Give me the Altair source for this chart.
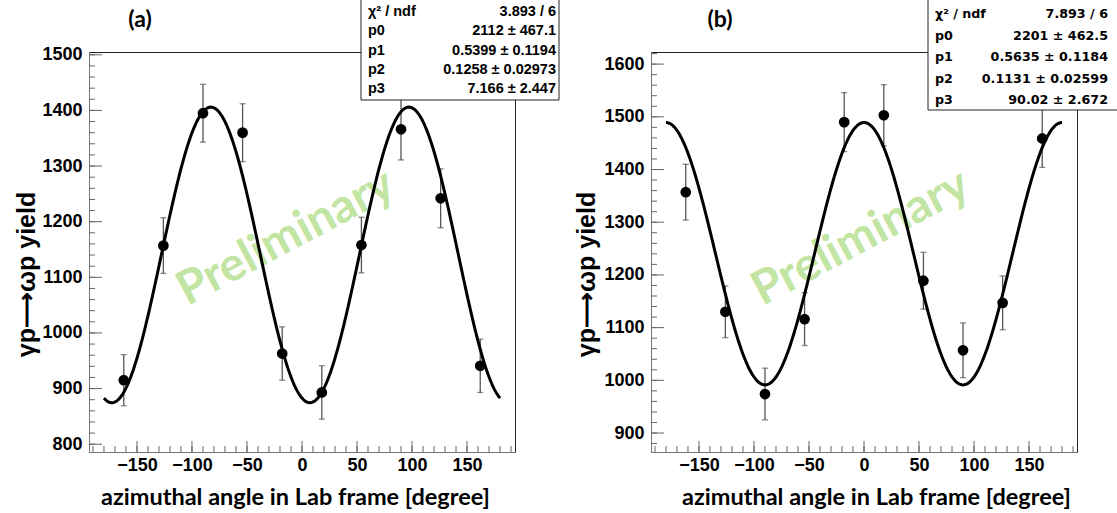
import altair as alt
import pandas as pd

# ---------------- data ----------------
angles = [-162, -126, -90, -54, -18, 18, 54, 90, 126, 162]

yield_a = [915, 1157, 1395, 1360, 963, 893, 1158, 1366, 1242, 941]
err_a = [46, 50, 52, 52, 48, 48, 50, 55, 53, 48]

yield_b = [1357, 1130, 974, 1116, 1490, 1503, 1189, 1057, 1147, 1459]
err_b = [53, 49, 49, 50, 56, 58, 54, 52, 51, 55]

# fit parameters (p0, p1, p2, p3) shown in the stat boxes
fit_a = [2112, 0.5399, 0.1258, 7.166]
fit_b = [2201, 0.5635, 0.1131, 90.02]

stat_names = ["χ² / ndf", "p0", "p1", "p2", "p3"]
stat_a = ["3.893 / 6", "2112 ± 467.1", "0.5399 ± 0.1194", "0.1258 ± 0.02973", "7.166 ± 2.447"]
stat_b = ["7.893 / 6", "2201 ± 462.5", "0.5635 ± 0.1184", "0.1131 ± 0.02599", "90.02 ± 2.672"]

x_ticks = [-150, -100, -50, 0, 50, 100, 150]
y_ticks_a = [800, 900, 1000, 1100, 1200, 1300, 1400, 1500]
y_ticks_b = [900, 1000, 1100, 1200, 1300, 1400, 1500, 1600]
x_domain = [-193.6, 193.6]
y_domain_a = [786, 1505]
y_domain_b = [864, 1623]
curve_range = [-180, 180]

x_title = "azimuthal angle in Lab frame [degree]"
y_title = "γp⟶ωp yield"

# ---------------- styling ----------------
W, H = 426, 400
TICK = "#666666"
AXC = "#777777"
GREEN = "#c2e5a3"


def panel(tag, yields, errs, fit, stats, ydom, yticks, geo):
    df = pd.DataFrame({"angle": angles, "yield": yields, "err": errs})
    xs = alt.Scale(domain=x_domain, nice=False, zero=False)
    ys = alt.Scale(domain=ydom, nice=False, zero=False)
    xaxis = alt.Axis(values=x_ticks, title=x_title, ticks=False, tickSize=0, grid=False, format="d",
                     labelPadding=4, titleX=geo["xtx"], titleY=45,
                     titleBaseline="middle", titleAlign="center", domainColor=AXC)
    yaxis = alt.Axis(values=yticks, title=y_title, ticks=False, tickSize=0, grid=False, format="d",
                     labelPadding=7, titleX=geo["ytx"], titleY=222, titleAngle=270,
                     titleBaseline="middle", titleAlign="center", domainColor=AXC)

    def X(f):
        return alt.X(f, scale=xs, axis=xaxis)

    def Y(f):
        return alt.Y(f, scale=ys, axis=yaxis)

    layers = []
    # watermark
    layers.append(
        alt.Chart(pd.DataFrame({"t": ["Preliminary"]})).mark_text(
            angle=332, font="Lato", fontWeight="bold", fontSize=47, color=GREEN
        ).encode(text="t:N", x=alt.value(geo["wmx"]), y=alt.value(186))
    )
    # inner ticks (ROOT style)
    layers.append(
        alt.Chart(alt.sequence(geo["ymin0"], geo["ymin1"] + 1, 20, as_="v")).mark_rule(color=TICK, strokeWidth=1)
        .encode(y=Y("v:Q"), x=alt.value(0), x2=alt.value(6))
    )
    layers.append(
        alt.Chart(alt.sequence(yticks[0], yticks[-1] + 1, 100, as_="v")).mark_rule(color=TICK, strokeWidth=1)
        .encode(y=Y("v:Q"), x=alt.value(0), x2=alt.value(13))
    )
    layers.append(
        alt.Chart(alt.sequence(-190, 191, 10, as_="v")).mark_rule(color=TICK, strokeWidth=1)
        .encode(x=X("v:Q"), y=alt.value(H), y2=alt.value(H - 6))
    )
    layers.append(
        alt.Chart(alt.sequence(-150, 151, 50, as_="v")).mark_rule(color=TICK, strokeWidth=1)
        .encode(x=X("v:Q"), y=alt.value(H), y2=alt.value(H - 11))
    )
    # error bars
    base = alt.Chart(df).transform_calculate(lo="datum.yield - datum.err", hi="datum.yield + datum.err")
    layers.append(base.mark_rule(color="#555555", strokeWidth=1.3).encode(x=X("angle:Q"), y=Y("lo:Q"), y2="hi:Q"))
    layers.append(base.mark_tick(orient="horizontal", size=6, thickness=1.3, color="#555555")
                  .encode(x=X("angle:Q"), y=Y("lo:Q")))
    layers.append(base.mark_tick(orient="horizontal", size=6, thickness=1.3, color="#555555")
                  .encode(x=X("angle:Q"), y=Y("hi:Q")))
    # fit curve
    p0, p1, p2, p3 = fit
    expr = f"{p0} * ({p1} - {p2} * cos(2 * (datum.phi - {p3}) * PI / 180))"
    layers.append(
        alt.Chart(alt.sequence(curve_range[0], curve_range[1] + 0.5, 1, as_="phi"))
        .transform_calculate(f=expr)
        .mark_line(color="black", strokeWidth=3)
        .encode(x=X("phi:Q"), y=Y("f:Q"))
    )
    # points
    layers.append(base.mark_circle(size=115, color="black", opacity=1).encode(x=X("angle:Q"), y=Y("yield:Q")))
    # stat box
    layers.append(
        alt.Chart(pd.DataFrame({"k": [0]})).mark_rect(fill="white", stroke="#222222", strokeWidth=1)
        .encode(x=alt.value(geo["bx0"]), x2=alt.value(geo["bx1"]), y=alt.value(-60), y2=alt.value(geo["by1"]))
    )
    for i, (n, v) in enumerate(zip(stat_names, stats)):
        yy = geo["row0"] + i * geo["drow"]
        layers.append(
            alt.Chart(pd.DataFrame({"t": [n]})).mark_text(
                align="left", baseline="middle", font=geo["sfont"], fontWeight="bold",
                fontSize=geo["sfs"], color="black")
            .encode(text="t:N", x=alt.value(geo["lx"]), y=alt.value(yy))
        )
        layers.append(
            alt.Chart(pd.DataFrame({"t": [v]})).mark_text(
                align="right", baseline="middle", font=geo["sfont"], fontWeight="bold",
                fontSize=geo["sfs"], color="black")
            .encode(text="t:N", x=alt.value(geo["vx"]), y=alt.value(yy))
        )
    # panel label
    layers.append(
        alt.Chart(pd.DataFrame({"t": [tag]})).mark_text(
            font="Lato", fontWeight="bold", fontSize=23, color="black", baseline="middle")
        .encode(text="t:N", x=alt.value(geo["tagx"]), y=alt.value(-32))
    )
    return alt.layer(*layers).properties(width=W, height=H)


geo_a = dict(xtx=206, ytx=-63, wmx=197, ymin0=800, ymin1=1500,
             bx0=272, bx1=470, by1=48, row0=-40, drow=19.3, lx=279, vx=467,
             sfont="Liberation Sans", sfs=14.5, tagx=51)
geo_b = dict(xtx=225, ytx=-65, wmx=210, ymin0=880, ymin1=1620,
             bx0=277, bx1=480, by1=58, row0=-38, drow=21.5, lx=284, vx=457,
             sfont="DejaVu Sans", sfs=12.7, tagx=69)

pa = panel("(a)", yield_a, err_a, fit_a, stat_a, y_domain_a, y_ticks_a, geo_a)
pb = panel("(b)", yield_b, err_b, fit_b, stat_b, y_domain_b, y_ticks_b, geo_b)

chart = (
    alt.hconcat(pa, pb, spacing=136, bounds="flush")
    .properties(padding={"left": 89, "top": 52, "right": 1028, "bottom": 461},
                autosize=alt.AutoSizeParams(type="none"), background="white")
    .configure_view(stroke="#222222", strokeWidth=1)
    .configure_axis(labelFont="Liberation Sans", labelFontWeight="bold", labelFontSize=18,
                    labelColor="black", titleColor="black")
    .configure_axisX(titleFont="Lato", titleFontWeight="bold", titleFontSize=23.5)
    .configure_axisY(titleFont="Liberation Sans", titleFontWeight="bold", titleFontSize=25)
)

chart.save("out.html", embed_options={"renderer": "svg", "actions": False})
